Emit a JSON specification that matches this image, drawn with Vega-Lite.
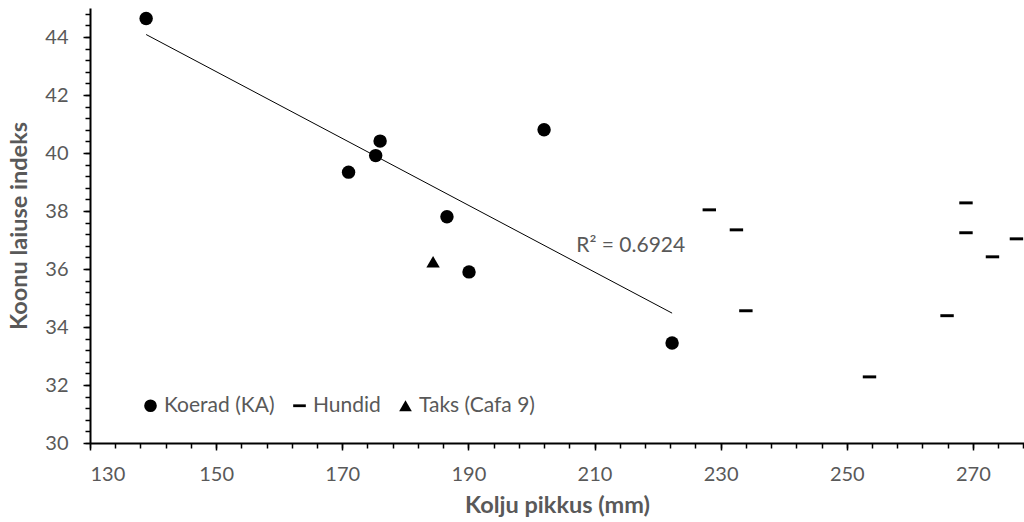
{
  "$schema": "https://vega.github.io/schema/vega-lite/v6.json",
  "width": 934,
  "height": 435,
  "autosize": {"type": "none"},
  "padding": {"left": 90, "top": 8, "right": 0, "bottom": 79},
  "config": {
    "view": {"stroke": null},
    "font": "Lato",
    "axis": {
      "grid": false,
      "domainColor": "black",
      "domainWidth": 2,
      "tickColor": "black",
      "tickWidth": 1.5,
      "tickSize": 7,
      "labelFont": "Lato",
      "labelFontSize": 20,
      "labelColor": "#595959",
      "titleFont": "Lato",
      "titleFontSize": 23.5,
      "titleFontWeight": "bold",
      "titleColor": "#595959"
    }
  },
  "datasets": {
    "pts": [
      {"Group": "Koerad (KA)", "x": 138.9, "y": 44.64},
      {"Group": "Koerad (KA)", "x": 176.0, "y": 40.41},
      {"Group": "Koerad (KA)", "x": 175.3, "y": 39.91},
      {"Group": "Koerad (KA)", "x": 171.0, "y": 39.34},
      {"Group": "Koerad (KA)", "x": 186.6, "y": 37.80},
      {"Group": "Koerad (KA)", "x": 190.1, "y": 35.90},
      {"Group": "Koerad (KA)", "x": 202.0, "y": 40.80},
      {"Group": "Koerad (KA)", "x": 222.3, "y": 33.45},
      {"Group": "Hundid", "x": 228.2, "y": 38.04},
      {"Group": "Hundid", "x": 232.5, "y": 37.35},
      {"Group": "Hundid", "x": 234.0, "y": 34.56},
      {"Group": "Hundid", "x": 253.6, "y": 32.28},
      {"Group": "Hundid", "x": 265.9, "y": 34.39},
      {"Group": "Hundid", "x": 268.9, "y": 38.28},
      {"Group": "Hundid", "x": 268.9, "y": 37.25},
      {"Group": "Hundid", "x": 273.1, "y": 36.42},
      {"Group": "Hundid", "x": 276.9, "y": 37.04},
      {"Group": "Taks (Cafa 9)", "x": 184.4, "y": 36.25}
    ],
    "r2": [
      {"x": 207.1, "y": 36.79, "label": "R² = 0.6924"}
    ]
  },
  "layer": [
    {
      "data": {"name": "pts"},
      "transform": [{"filter": "datum.Group === 'Koerad (KA)'"}, {"regression": "y", "on": "x"}],
      "mark": {"type": "line", "color": "black", "strokeWidth": 1},
      "encoding": {
        "x": {"field": "x", "type": "quantitative", "axis": null},
        "y": {"field": "y", "type": "quantitative", "axis": null}
      }
    },
    {
      "data": {"name": "pts"},
      "mark": {"type": "point", "filled": true, "color": "black", "opacity": 1, "size": 180},
      "encoding": {
        "x": {
          "field": "x", "type": "quantitative",
          "scale": {"domain": [130, 278.1], "nice": false, "zero": false},
          "axis": {"orient": "bottom", "values": [130, 150, 170, 190, 210, 230, 250, 270], "title": "Kolju pikkus (mm)", "labelPadding": 14, "titlePadding": 9}
        },
        "y": {
          "field": "y", "type": "quantitative",
          "scale": {"domain": [30, 45], "nice": false, "zero": false},
          "axis": {"orient": "left", "values": [30, 32, 34, 36, 38, 40, 42, 44], "title": "Koonu laiuse indeks", "labelPadding": 15, "titlePadding": 13}
        },
        "shape": {
          "field": "Group", "type": "nominal",
          "scale": {"domain": ["Koerad (KA)", "Hundid", "Taks (Cafa 9)"], "range": ["circle", "M-1,-0.22H1V0.22H-1Z", "triangle-up"]},
          "legend": {
            "title": null,
            "orient": "none",
            "legendX": 50,
            "legendY": 387,
            "direction": "horizontal",
            "padding": 0,
            "labelFont": "Lato",
            "labelFontSize": 21,
            "labelColor": "#595959",
            "labelOffset": 3,
            "columnPadding": 14,
            "symbolSize": 160,
            "symbolFillColor": "black",
            "symbolStrokeWidth": 0
          }
        }
      }
    },
    {
      "data": {"name": "r2"},
      "mark": {"type": "text", "align": "left", "baseline": "middle", "font": "Lato", "fontSize": 21, "color": "#595959"},
      "encoding": {
        "x": {"field": "x", "type": "quantitative", "axis": null},
        "y": {"field": "y", "type": "quantitative", "axis": null},
        "text": {"field": "label"}
      }
    },
    {
      "data": {"name": "pts"},
      "mark": {"type": "point", "opacity": 0},
      "encoding": {
        "x": {
          "field": "x", "type": "quantitative",
          "axis": {"orient": "bottom", "values": [130,134,138,142,146,150,154,158,162,166,170,174,178,182,186,190,194,198,202,206,210,214,218,222,226,230,234,238,242,246,250,254,258,262,266,270,274,278], "labels": false, "domain": false, "tickSize": 5, "title": null}
        },
        "y": {
          "field": "y", "type": "quantitative",
          "axis": {"orient": "left", "values": [30,30.4,30.8,31.2,31.6,32,32.4,32.8,33.2,33.6,34,34.4,34.8,35.2,35.6,36,36.4,36.8,37.2,37.6,38,38.4,38.8,39.2,39.6,40,40.4,40.8,41.2,41.6,42,42.4,42.8,43.2,43.6,44,44.4,44.8], "labels": false, "domain": false, "tickSize": 5, "title": null}
        }
      }
    }
  ],
  "resolve": {"axis": {"x": "independent", "y": "independent"}}
}
